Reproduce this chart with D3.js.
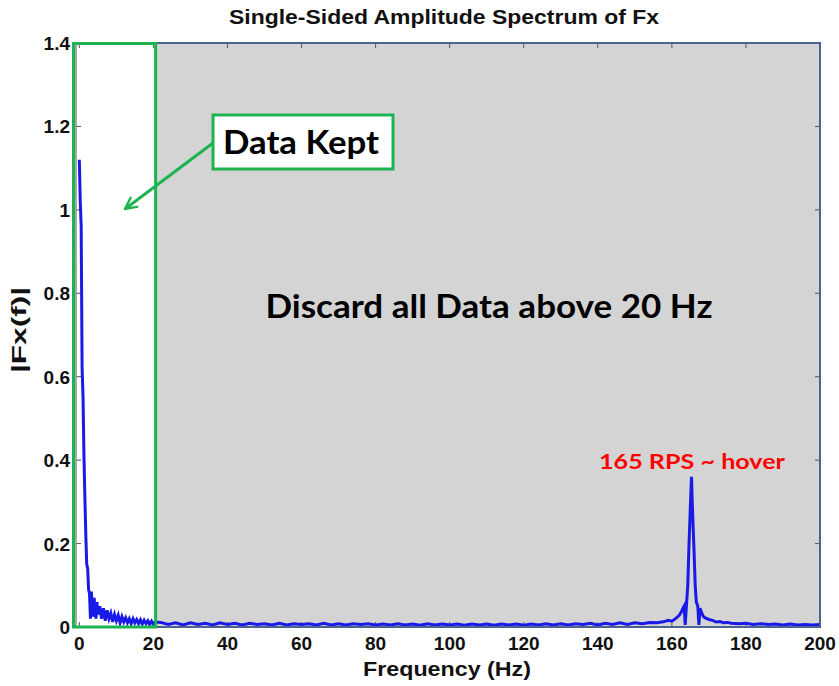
<!DOCTYPE html>
<html>
<head>
<meta charset="utf-8">
<script src="https://cdn.jsdelivr.net/npm/d3@7"></script>
<style>
  html, body { margin: 0; padding: 0; background: #ffffff; }
  svg { display: block; }
</style>
</head>
<body>
<svg id="chart" width="839" height="686"></svg>
<script>
// ---- Data ----
const lowFreq = [0, 0.25, 0.5, 0.75, 1.0, 1.25, 1.5, 1.75, 2.0, 2.25, 2.5, 2.75, 3.0, 3.25, 3.5, 3.75, 4.0, 4.25, 4.5, 4.75, 5.0,
  5.5, 6, 6.5, 7, 7.5, 8, 8.5, 9, 9.5, 10, 10.5, 11, 11.5, 12, 12.5, 13, 13.5, 14, 14.5, 15, 15.5, 16, 16.5, 17, 17.5, 18, 18.5, 19, 19.5, 20, 20.5];
const lowAmp = [1.12, 1.02, 0.96, 0.62, 0.55, 0.41, 0.31, 0.22, 0.15, 0.14, 0.09, 0.08, 0.02, 0.085, 0.05, 0.025, 0.07, 0.04, 0.02, 0.06, 0.03,
  0.05, 0.02, 0.045, 0.015, 0.04, 0.02, 0.033, 0.012, 0.03, 0.015, 0.028, 0.01, 0.025, 0.012, 0.022, 0.01, 0.02, 0.008, 0.02, 0.01, 0.018, 0.008, 0.017, 0.007, 0.016, 0.008, 0.015, 0.006, 0.014, 0.007, 0.012];

const midFreq = [22, 24, 26, 28, 30, 32, 34, 36, 38, 40, 42, 44, 46, 48, 50, 52, 54, 56, 58, 60, 62, 64, 66, 68, 70, 72, 74, 76, 78, 80,
  82, 84, 86, 88, 90, 92, 94, 96, 98, 100, 102, 104, 106, 108, 110, 112, 114, 116, 118, 120, 122, 124, 126, 128, 130,
  132, 134, 136, 138, 140, 142, 144, 146, 148, 150, 152, 154, 156];
const midAmp = [0.011, 0.006, 0.010, 0.005, 0.010, 0.006, 0.009, 0.005, 0.010, 0.006, 0.009, 0.005, 0.009, 0.006, 0.008, 0.005, 0.009, 0.005, 0.008, 0.006,
  0.008, 0.005, 0.009, 0.005, 0.008, 0.005, 0.008, 0.006, 0.008, 0.005, 0.007, 0.005, 0.008, 0.005, 0.007, 0.004, 0.008, 0.005, 0.007, 0.005,
  0.007, 0.004, 0.007, 0.005, 0.007, 0.004, 0.007, 0.005, 0.007, 0.004, 0.007, 0.005, 0.008, 0.005, 0.008,
  0.005, 0.008, 0.006, 0.009, 0.005, 0.009, 0.006, 0.010, 0.006, 0.010, 0.008, 0.011, 0.010];

const peakFreq = [158, 159, 160, 161, 162, 162.5, 163, 163.3, 163.6, 164, 164.3, 164.6, 165, 165.3, 165.5, 165.7, 166, 166.3, 166.6,
  167, 167.3, 167.6, 168, 168.5, 169, 170, 171, 172, 173, 174, 175, 176, 178, 180, 182, 184, 186, 188, 190, 192, 194, 196, 198, 200];
const peakAmp = [0.013, 0.016, 0.014, 0.02, 0.028, 0.035, 0.045, 0.05, 0.005, 0.06, 0.10, 0.19, 0.29, 0.36, 0.30, 0.25, 0.18, 0.10, 0.06,
  0.05, 0.005, 0.045, 0.035, 0.025, 0.022, 0.018, 0.016, 0.012, 0.013, 0.010, 0.011, 0.009, 0.008, 0.009, 0.006, 0.008, 0.006, 0.007, 0.005, 0.007, 0.005, 0.006, 0.005, 0.006];

const xTicks = [0, 20, 40, 60, 80, 100, 120, 140, 160, 180, 200];
const yTicks = [0, 0.2, 0.4, 0.6, 0.8, 1, 1.2, 1.4];

const titleText = "Single-Sided Amplitude Spectrum of Fx";
const xLabelText = "Frequency (Hz)";
const yLabelText = "|Fx(f)|";
const keptText = "Data Kept";
const discardText = "Discard all Data above 20 Hz";
const hoverText = "165 RPS ~ hover";

// ---- Build ----
const freqs = lowFreq.concat(midFreq, peakFreq);
const amps = lowAmp.concat(midAmp, peakAmp);
const data = freqs.map((f, i) => ({ f, a: amps[i] }));

const svg = d3.select("#chart");
const x = d3.scaleLinear().domain([-0.9, 200]).range([76, 820]);
const y = d3.scaleLinear().domain([0, 1.4]).range([627, 43]);

const fontMain = "'Liberation Sans', Arial, sans-serif";
const fontCallout = "Lato, 'Open Sans', sans-serif";

// background: grey plot area
svg.append("rect")
  .attr("x", x.range()[0]).attr("y", y(1.4))
  .attr("width", x.range()[1] - x.range()[0]).attr("height", y(0) - y(1.4))
  .attr("fill", "#d4d4d4");
// white kept region
svg.append("rect")
  .attr("x", x.range()[0]).attr("y", y(1.4))
  .attr("width", x(20.6) - x.range()[0]).attr("height", y(0) - y(1.4))
  .attr("fill", "#ffffff");

// ticks (inward, MATLAB-style)
const tickLen = 5;
const tg = svg.append("g").attr("stroke", "#555").attr("stroke-width", 1);
xTicks.forEach(t => {
  tg.append("line").attr("x1", x(t)).attr("x2", x(t)).attr("y1", y(0)).attr("y2", y(0) - tickLen);
  tg.append("line").attr("x1", x(t)).attr("x2", x(t)).attr("y1", y(1.4)).attr("y2", y(1.4) + tickLen);
});
yTicks.forEach(t => {
  tg.append("line").attr("x1", x.range()[0]).attr("x2", x.range()[0] + tickLen).attr("y1", y(t)).attr("y2", y(t));
  tg.append("line").attr("x1", x.range()[1]).attr("x2", x.range()[1] - tickLen).attr("y1", y(t)).attr("y2", y(t));
});

// spectrum line
const line = d3.line().x(d => x(d.f)).y(d => y(d.a));
svg.append("path").datum(data)
  .attr("d", line)
  .attr("fill", "none")
  .attr("stroke", "#1a1ae8")
  .attr("stroke-width", 3)
  .attr("stroke-linejoin", "miter");

// axes frame
const frame = svg.append("g").attr("fill", "none");
frame.append("line").attr("x1", x.range()[0]).attr("x2", x.range()[0]).attr("y1", y(0)).attr("y2", y(1.4))
  .attr("stroke", "#8a8a8a").attr("stroke-width", 1.5);
frame.append("path")
  .attr("d", `M${x.range()[0]},${y(1.4)}H${x.range()[1]}V${y(0)}H${x.range()[0]}`)
  .attr("stroke", "#4a6592").attr("stroke-width", 2);

// tick labels
const xl = svg.append("g").attr("font-family", fontMain).attr("font-size", 19).attr("font-weight", "bold").attr("fill", "#111");
xTicks.forEach(t => {
  xl.append("text").attr("x", x(t)).attr("y", y(0) + 23).attr("text-anchor", "middle").text(d3.format("~g")(t));
});
yTicks.forEach(t => {
  xl.append("text").attr("x", x.range()[0] - 6).attr("y", y(t) + 7).attr("text-anchor", "end").text(d3.format("~g")(t));
});

// titles
svg.append("text").attr("x", 444).attr("y", 24).attr("text-anchor", "middle")
  .attr("font-family", fontMain).attr("font-size", 20).attr("font-weight", "bold").attr("fill", "#111")
  .attr("textLength", 430).attr("lengthAdjust", "spacingAndGlyphs").text(titleText);
svg.append("text").attr("x", 447).attr("y", 676).attr("text-anchor", "middle")
  .attr("font-family", fontMain).attr("font-size", 20).attr("font-weight", "bold").attr("fill", "#111")
  .attr("textLength", 168).attr("lengthAdjust", "spacingAndGlyphs").text(xLabelText);
svg.append("text").attr("transform", "translate(26,330) rotate(-90)").attr("text-anchor", "middle")
  .attr("font-family", fontMain).attr("font-size", 20).attr("font-weight", "bold").attr("fill", "#111")
  .attr("textLength", 86).attr("lengthAdjust", "spacingAndGlyphs").text(yLabelText);

// green "kept" outline
const green = "#1db350";
svg.append("rect")
  .attr("x", 73.5).attr("y", 43.5)
  .attr("width", x(20.6) - 73.5).attr("height", y(0) - 43.5)
  .attr("fill", "none").attr("stroke", green).attr("stroke-width", 3);

// Data Kept callout
svg.append("rect").attr("x", 213).attr("y", 115).attr("width", 180).attr("height", 54)
  .attr("fill", "#fff").attr("stroke", green).attr("stroke-width", 3);
svg.append("text").attr("x", 301).attr("y", 154).attr("text-anchor", "middle")
  .attr("font-family", fontCallout).attr("font-size", 33).attr("font-weight", "bold").attr("fill", "#000")
  .attr("textLength", 156).attr("lengthAdjust", "spacingAndGlyphs").text(keptText);

// arrow
const defs = svg.append("defs");
defs.append("marker").attr("id", "arr").attr("viewBox", "0 0 10 10").attr("refX", 9).attr("refY", 5)
  .attr("markerWidth", 5).attr("markerHeight", 5).attr("orient", "auto-start-reverse")
  .append("path").attr("d", "M1,1 L9,5 L1,9").attr("fill", "none").attr("stroke", green).attr("stroke-width", 1.6);
svg.append("line").attr("x1", 213).attr("y1", 143).attr("x2", 125).attr("y2", 209)
  .attr("stroke", green).attr("stroke-width", 3).attr("marker-end", "url(#arr)");

// Discard text
svg.append("text").attr("x", 489).attr("y", 318).attr("text-anchor", "middle")
  .attr("font-family", fontCallout).attr("font-size", 33).attr("font-weight", "bold").attr("fill", "#000")
  .attr("textLength", 447).attr("lengthAdjust", "spacingAndGlyphs").text(discardText);

// hover label
svg.append("text").attr("x", 692).attr("y", 469).attr("text-anchor", "middle")
  .attr("font-family", fontCallout).attr("font-size", 21).attr("font-weight", "bold").attr("fill", "#ff0000")
  .attr("textLength", 186).attr("lengthAdjust", "spacingAndGlyphs").text(hoverText);
</script>
</body>
</html>
